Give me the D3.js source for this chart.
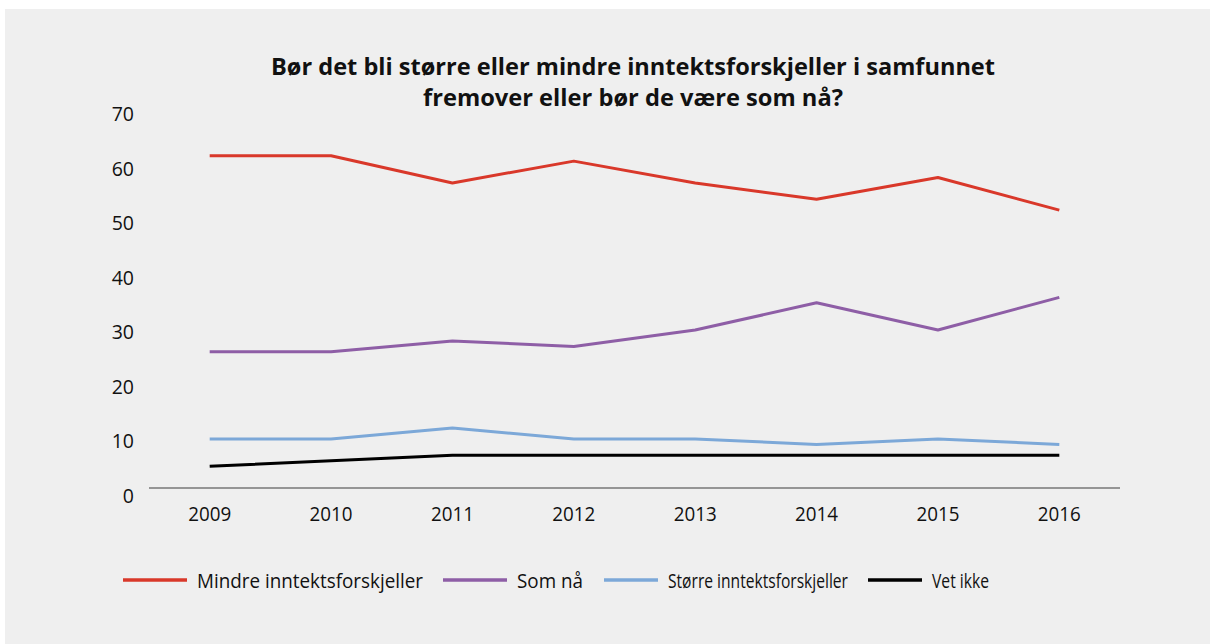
<html>
  <head>
    <meta charset='utf-8'>
    <script src='https://d3js.org/d3.v7.min.js'></script>
    <style>
      body { margin: 0; background: #fff; }
      text { font-family: 'Open Sans', sans-serif; fill: #111; }
    </style>
  </head>
  <body>
    <div id='chart'></div>
    <script>
        const years = ['2009', '2010', '2011', '2012', '2013', '2014', '2015', '2016'];
        const mindre = [62, 62, 57, 61, 57, 54, 58, 52];
        const somNaa = [26, 26, 28, 27, 30, 35, 30, 36];
        const storre = [10, 10, 12, 10, 10, 9, 10, 9];
        const vetIkke = [5, 6, 7, 7, 7, 7, 7, 7];
        const yTicks = [0, 10, 20, 30, 40, 50, 60, 70];
        const seriesNames = ['Mindre inntektsforskjeller', 'Som nå', 'Større inntektsforskjeller', 'Vet ikke'];
        const seriesColors = ['#d9382a', '#8e5ea6', '#7ca8d8', '#000000'];
        const titleLines = ['Bør det bli større eller mindre inntektsforskjeller i samfunnet',
                            'fremover eller bør de være som nå?'];

        const W = 1210, H = 644;
        const svg = d3.select('#chart').append('svg')
                      .attr('width', W).attr('height', H);

        svg.append('rect')
           .attr('x', 5).attr('y', 9)
           .attr('width', W - 5).attr('height', H - 9)
           .attr('fill', '#efefef');

        // title (original font is narrower, so squeeze to the measured widths)
        const titleW = [724, 420];
        svg.append('g').selectAll('text')
           .data(titleLines).enter().append('text')
           .attr('x', 633)
           .attr('y', (d, i) => 75 + i * 31)
           .attr('text-anchor', 'middle')
           .attr('font-size', 24)
           .attr('font-weight', 700)
           .attr('textLength', (d, i) => titleW[i])
           .attr('lengthAdjust', 'spacingAndGlyphs')
           .text(d => d);

        const x = d3.scaleBand().domain(years).range([149, 1120]);
        const y = d3.scaleLinear().domain([0, 70]).range([493.5, 112.1]);
        const xc = d => x(d) + x.bandwidth() / 2;

        // y labels
        svg.append('g').selectAll('text')
           .data(yTicks).enter().append('text')
           .attr('x', 134)
           .attr('y', d => y(d) + 9)
           .attr('text-anchor', 'end')
           .attr('font-size', 19.5)
           .text(d => d);

        // baseline (sits a bit above the zero position in the original)
        svg.append('line')
           .attr('x1', 149).attr('x2', 1120)
           .attr('y1', y(0) - 5.5).attr('y2', y(0) - 5.5)
           .attr('stroke', '#777').attr('stroke-width', 1.5);

        // x labels
        svg.append('g').selectAll('text')
           .data(years).enter().append('text')
           .attr('x', d => xc(d))
           .attr('y', 521)
           .attr('text-anchor', 'middle')
           .attr('font-size', 19.5)
           .attr('textLength', 43)
           .attr('lengthAdjust', 'spacingAndGlyphs')
           .text(d => d);

        const allSeries = [mindre, somNaa, storre, vetIkke];
        const line = d3.line()
                       .x((d, i) => xc(years[i]))
                       .y(d => y(d));

        svg.append('g').selectAll('path')
           .data(allSeries).enter().append('path')
           .attr('d', d => line(d))
           .attr('fill', 'none')
           .attr('stroke', (d, i) => seriesColors[i])
           .attr('stroke-width', 3)
           .attr('stroke-linejoin', 'round');

        // legend
        const legendX = [123, 443, 604, 868];
        const legendW = [64, 64, 54, 54];
        const legendTextW = [226, 66, 180, 57];
        const leg = svg.append('g').selectAll('g')
                       .data(seriesNames).enter().append('g');
        leg.append('line')
           .attr('x1', (d, i) => legendX[i])
           .attr('x2', (d, i) => legendX[i] + legendW[i])
           .attr('y1', 580).attr('y2', 580)
           .attr('stroke', (d, i) => seriesColors[i])
           .attr('stroke-width', 3.5);
        leg.append('text')
           .attr('x', (d, i) => legendX[i] + legendW[i] + 10)
           .attr('y', 588)
           .attr('font-size', 20)
           .attr('textLength', (d, i) => legendTextW[i])
           .attr('lengthAdjust', 'spacingAndGlyphs')
           .text(d => d);
    </script>
  </body>
</html>
